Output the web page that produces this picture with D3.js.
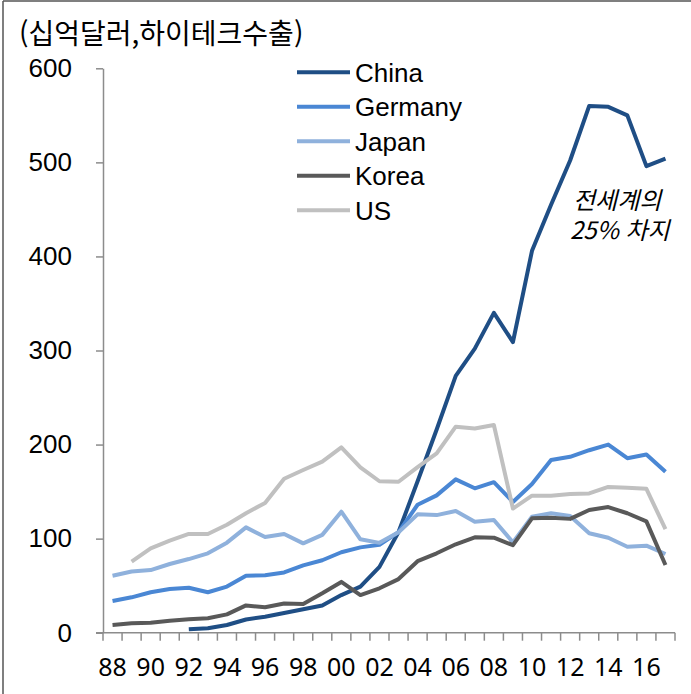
<!DOCTYPE html>
<html lang="ko">
<head>
    <meta charset="UTF-8">
    <script src="https://cdn.jsdelivr.net/npm/d3@7/dist/d3.min.js"></script>
    <style>
        body{ margin:0; background:#fff; }
        .line{ fill:none; stroke-width:4; stroke-linejoin:round; }
    </style>
    <title>hightech exports</title>
</head>
<body>
    <svg height="694" width="691"></svg>
    <script>
        // data (billion USD)
        var years = d3.range(1988, 2018);
        var china   = [null,null,null,null,3.6,4.7,8.2,14,17,21,25,29,40,49,70,107,161,216,273,302,340,309,406,455,502,560,559,550,496,504];
        var germany = [33.7,37.6,43,46.4,47.8,43,49,60.6,61,64,71.6,77,85.5,90.7,93.5,107,136,146,163,153.5,160,139,158,183.5,187,194,200,185.5,189.5,171];
        var japan   = [60.6,65,66.6,73,78.3,84.4,95.7,112,101.7,105,95,104,128.6,99.3,95.5,106.7,125.8,125,129.4,118,119.8,96,123.3,127,124,105.7,101,91.4,92.5,83.7];
        var korea   = [8.2,10,10.6,12.8,14.2,15.3,19.5,29,27,31,30.6,42,54,40,47.2,57,76,84.4,94,101.4,101,93,121.6,122.3,121,130.4,133.6,127,118.4,72];
        var us      = [null,75.5,89.7,97.8,105,105,114.8,127,138,163.7,173,181.8,197,175.8,161,160.5,176,190.7,219,217,220.8,132,145.7,145.7,147.5,148,155,154,153,110];
        var names   = ["China","Germany","Japan","Korea","US"];
        var colors  = ["#1f4e85","#4a87d4","#8fb1dc","#595959","#c0c0c0"];
        var yTicks  = [0,100,200,300,400,500,600];
        var xLabels = d3.range(1988, 2018, 2);

        var series = [china, germany, japan, korea, us];

        var svg = d3.select("svg");

        // outer frame (left and top only)
        svg.append("line").attr("x1",3).attr("y1",1).attr("x2",3).attr("y2",694)
            .attr("stroke","#555").attr("stroke-width",1.5);
        svg.append("line").attr("x1",3).attr("y1",1).attr("x2",691).attr("y2",1)
            .attr("stroke","#555").attr("stroke-width",1.5);

        svg.append("text")
            .attr("x",19)
            .attr("y",44)
            .attr("font-family","'Noto Sans CJK KR'")
            .attr("font-size","28px")
            .text("(십억달러,하이테크수출)");

        var plotLeft = 103, plotRight = 675, plotTop = 68.3, plotBottom = 632.7;
        var xScale = d3.scaleBand().domain(years).range([plotLeft,plotRight]).padding(0);
        var yScale = d3.scaleLinear().domain([0,600]).range([plotBottom,plotTop]);
        var axisColor = "#8c8c8c";

        // y axis
        var gy = svg.append("g")
            .attr("transform","translate("+plotLeft+",0)")
            .call(d3.axisLeft(yScale).tickValues(yTicks).tickSize(7).tickPadding(24).tickSizeOuter(0));
        gy.select(".domain").attr("stroke",axisColor).attr("stroke-width",1.5);
        gy.selectAll(".tick line").attr("stroke",axisColor).attr("stroke-width",1.5);
        gy.selectAll(".tick text")
            .attr("font-family","'Liberation Sans', Arial, sans-serif")
            .attr("font-size","26px")
            .attr("fill","#000");

        // x axis: labels at category centres
        var gx = svg.append("g")
            .attr("transform","translate(0,"+plotBottom+")")
            .call(d3.axisBottom(xScale).tickValues(xLabels).tickSize(0).tickPadding(26)
                .tickFormat(function(d){ return String(d).slice(2); }));
        gx.select(".domain").remove();
        gx.selectAll(".tick text")
            .attr("font-family","'Noto Sans', sans-serif")
            .attr("font-size","25px")
            .attr("fill","#000");

        // x axis line and tick marks between categories
        svg.append("line")
            .attr("x1",plotLeft-7).attr("x2",plotRight)
            .attr("y1",plotBottom).attr("y2",plotBottom)
            .attr("stroke",axisColor).attr("stroke-width",1.5);
        var bounds = years.map(function(d){ return xScale(d); }).concat([plotRight]);
        svg.append("g").selectAll("line")
            .data(bounds)
            .enter()
            .append("line")
            .attr("x1",function(d){ return d; })
            .attr("x2",function(d){ return d; })
            .attr("y1",plotBottom)
            .attr("y2",plotBottom+8)
            .attr("stroke",axisColor)
            .attr("stroke-width",1.5);

        var line = d3.line()
            .defined(function(d){ return d.v !== null; })
            .x(function(d){ return xScale(d.year) + xScale.bandwidth()/2; })
            .y(function(d){ return yScale(d.v); });

        svg.append("g").selectAll("path")
            .data(series)
            .enter()
            .append("path")
            .attr("class","line")
            .attr("stroke",function(d,i){ return colors[i]; })
            .attr("d",function(s){
                return line(s.map(function(v,i){ return {year:years[i], v:v}; }));
            });

        // legend
        var lg = svg.append("g").selectAll("g")
            .data(names)
            .enter()
            .append("g")
            .attr("transform",function(d,i){ return "translate(297,"+(72.3+i*34.5)+")"; });
        lg.append("line")
            .attr("x1",0).attr("x2",53).attr("y1",0).attr("y2",0)
            .attr("stroke",function(d,i){ return colors[i]; })
            .attr("stroke-width",4);
        lg.append("text")
            .attr("x",58)
            .attr("y",9.5)
            .attr("font-family","'Liberation Sans', Arial, sans-serif")
            .attr("font-size","26px")
            .text(function(d){ return d; });

        // annotation
        var note = svg.append("text")
            .attr("font-family","'Noto Sans CJK KR'")
            .attr("font-size","24px")
            .attr("font-style","italic");
        note.append("tspan").attr("x",573).attr("y",209).text("전세계의");
        note.append("tspan").attr("x",570).attr("y",239).text("25% 차지");
    </script>
</body>
</html>
